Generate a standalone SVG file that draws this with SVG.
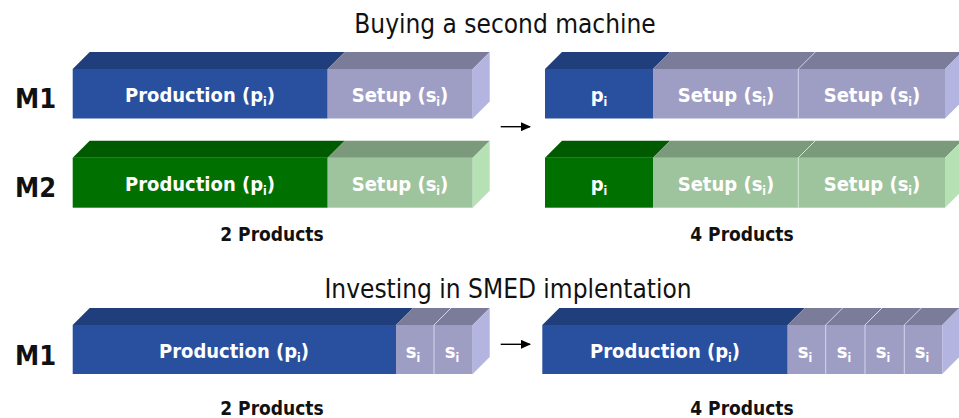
<svg xmlns="http://www.w3.org/2000/svg" width="959" height="418" viewBox="0 0 959 418">
<defs>
<style>
.title{font-family:"DejaVu Sans Condensed","DejaVu Sans",sans-serif;font-stretch:condensed;font-size:26px;fill:#111;text-anchor:middle}
.lbl{font-family:"DejaVu Sans Condensed","DejaVu Sans",sans-serif;font-stretch:condensed;font-weight:bold;font-size:20px;fill:#fff;text-anchor:middle}
.cnt{font-family:"DejaVu Sans Condensed","DejaVu Sans",sans-serif;font-stretch:condensed;font-weight:bold;font-size:19px;fill:#111;text-anchor:middle}
.mach{font-family:"DejaVu Sans Condensed","DejaVu Sans",sans-serif;font-stretch:condensed;font-weight:bold;font-size:27px;fill:#111}
.bf{fill:#29509e}.bt{fill:#203e7b}
.lf{fill:#9e9ec5}.lt{fill:#7b7b9a}.ls{fill:#b4b4e0}
.gf{fill:#007000}.gt{fill:#005a00}
.hf{fill:#9dc49d}.ht{fill:#7b997b}.hs{fill:#b5e1b5}
.sep{stroke:#d4d4ec;stroke-width:1;fill:none}
.sepg{stroke:#d0ecd0;stroke-width:1;fill:none}
.arr{stroke:#000;stroke-width:1.4;fill:none}
</style>
<marker id="ah" markerWidth="10" markerHeight="9" refX="9" refY="4.5" orient="auto" markerUnits="userSpaceOnUse">
<path d="M0,0 L10,4.5 L0,9 Z" fill="#000"/>
</marker>
</defs>

<text class="title" x="505" y="33">Buying a second machine</text>
<text class="title" x="508" y="298">Investing in SMED implentation</text>

<g id="label-m1-top"><text class="mach" x="15" y="108">M1</text></g>
<g id="label-m2-top"><text class="mach" x="15" y="197">M2</text></g>
<g id="label-m1-bottom"><text class="mach" x="15" y="365">M1</text></g>

<!-- Top-left M1 bar -->
<g id="bar-m1-before">
<rect class="bf" x="72.7" y="69" width="255" height="49.5"/>
<polygon class="bt" points="72.7,69 89.7,52 344.7,52 327.7,69"/>
<rect class="lf" x="327.7" y="69" width="145" height="49.5"/>
<polygon class="lt" points="327.7,69 344.7,52 489.7,52 472.7,69"/>
<polygon class="ls" points="472.7,69 489.7,52 489.7,101.5 472.7,118.5"/>
<text class="lbl" x="200" y="102">Production (p<tspan font-size="12" dy="4">i</tspan><tspan dy="-4">)</tspan></text>
<text class="lbl" x="400" y="102">Setup (s<tspan font-size="12" dy="4">i</tspan><tspan dy="-4">)</tspan></text>
</g>

<!-- Top-left M2 bar -->
<g id="bar-m2-before">
<rect class="gf" x="72.7" y="157.7" width="255" height="50"/>
<polygon class="gt" points="72.7,157.7 89.7,140.7 344.7,140.7 327.7,157.7"/>
<rect class="hf" x="327.7" y="157.7" width="145" height="50"/>
<polygon class="ht" points="327.7,157.7 344.7,140.7 489.7,140.7 472.7,157.7"/>
<polygon class="hs" points="472.7,157.7 489.7,140.7 489.7,190.7 472.7,207.7"/>
<text class="lbl" x="200" y="191">Production (p<tspan font-size="12" dy="4">i</tspan><tspan dy="-4">)</tspan></text>
<text class="lbl" x="400" y="191">Setup (s<tspan font-size="12" dy="4">i</tspan><tspan dy="-4">)</tspan></text>
</g>

<!-- Top-right M1 bar -->
<g id="bar-m1-after">
<rect class="bf" x="545" y="69" width="108" height="49.5"/>
<polygon class="bt" points="545,69 562,52 670,52 653,69"/>
<rect class="lf" x="653" y="69" width="292" height="49.5"/>
<polygon class="lt" points="653,69 670,52 962,52 945,69"/>
<polygon class="ls" points="945,69 962,52 962,101.5 945,118.5"/>
<path class="sep" d="M798.3,118.5 V69 L815.3,52"/>
<text class="lbl" x="599" y="102">p<tspan font-size="12" dy="4">i</tspan></text>
<text class="lbl" x="726" y="102">Setup (s<tspan font-size="12" dy="4">i</tspan><tspan dy="-4">)</tspan></text>
<text class="lbl" x="872" y="102">Setup (s<tspan font-size="12" dy="4">i</tspan><tspan dy="-4">)</tspan></text>
</g>

<!-- Top-right M2 bar -->
<g id="bar-m2-after">
<rect class="gf" x="545" y="157.7" width="108" height="50"/>
<polygon class="gt" points="545,157.7 562,140.7 670,140.7 653,157.7"/>
<rect class="hf" x="653" y="157.7" width="292" height="50"/>
<polygon class="ht" points="653,157.7 670,140.7 962,140.7 945,157.7"/>
<polygon class="hs" points="945,157.7 962,140.7 962,190.7 945,207.7"/>
<path class="sepg" d="M798.3,207.7 V157.7 L815.3,140.7"/>
<text class="lbl" x="599" y="191">p<tspan font-size="12" dy="4">i</tspan></text>
<text class="lbl" x="726" y="191">Setup (s<tspan font-size="12" dy="4">i</tspan><tspan dy="-4">)</tspan></text>
<text class="lbl" x="872" y="191">Setup (s<tspan font-size="12" dy="4">i</tspan><tspan dy="-4">)</tspan></text>
</g>

<!-- Bottom-left M1 bar -->
<g id="bar-smed-before">
<rect class="bf" x="72.7" y="325" width="323.3" height="49"/>
<polygon class="bt" points="72.7,325 89.7,308 413,308 396,325"/>
<rect class="lf" x="396" y="325" width="76.7" height="49"/>
<polygon class="lt" points="396,325 413,308 489.7,308 472.7,325"/>
<polygon class="ls" points="472.7,325 489.7,308 489.7,357 472.7,374"/>
<path class="sep" d="M434,374 V325 L451,308"/>
<text class="lbl" x="234" y="358">Production (p<tspan font-size="12" dy="4">i</tspan><tspan dy="-4">)</tspan></text>
<text class="lbl" x="413" y="358">s<tspan font-size="12" dy="4">i</tspan></text>
<text class="lbl" x="452" y="358">s<tspan font-size="12" dy="4">i</tspan></text>
</g>

<!-- Bottom-right M1 bar -->
<g id="bar-smed-after">
<rect class="bf" x="542.3" y="325" width="245.4" height="49"/>
<polygon class="bt" points="542.3,325 559.3,308 804.7,308 787.7,325"/>
<rect class="lf" x="787.7" y="325" width="154.6" height="49"/>
<polygon class="lt" points="787.7,325 804.7,308 959.3,308 942.3,325"/>
<polygon class="ls" points="942.3,325 959.3,308 959.3,357 942.3,374"/>
<path class="sep" d="M825.7,374 V325 L842.7,308 M865,374 V325 L882,308 M904.3,374 V325 L921.3,308"/>
<text class="lbl" x="665" y="358">Production (p<tspan font-size="12" dy="4">i</tspan><tspan dy="-4">)</tspan></text>
<text class="lbl" x="805" y="358">s<tspan font-size="12" dy="4">i</tspan></text>
<text class="lbl" x="844" y="358">s<tspan font-size="12" dy="4">i</tspan></text>
<text class="lbl" x="883" y="358">s<tspan font-size="12" dy="4">i</tspan></text>
<text class="lbl" x="922" y="358">s<tspan font-size="12" dy="4">i</tspan></text>
</g>

<g id="count-labels">
<text class="cnt" x="272" y="241">2 Products</text>
<text class="cnt" x="742" y="241">4 Products</text>
<text class="cnt" x="272" y="415">2 Products</text>
<text class="cnt" x="742" y="415">4 Products</text>
</g>

<g id="connectors">
<line class="arr" x1="500.7" y1="126.7" x2="530" y2="126.7" marker-end="url(#ah)"/>
<line class="arr" x1="500.7" y1="344.3" x2="530" y2="344.3" marker-end="url(#ah)"/>
</g>
</svg>
